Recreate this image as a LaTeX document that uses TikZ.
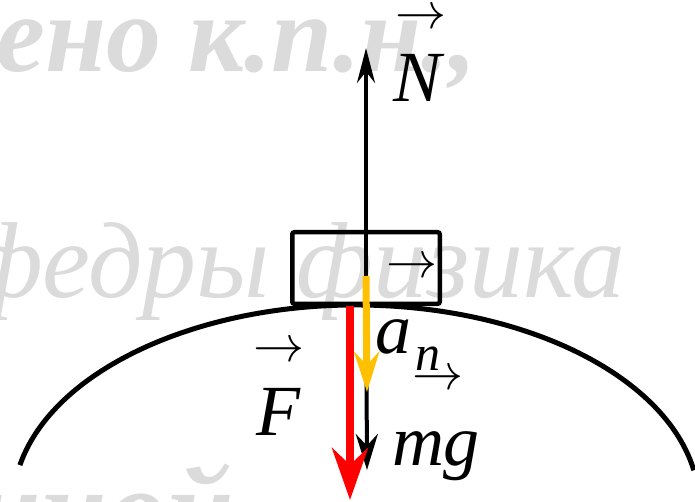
\RequirePackage{fix-cm}
\documentclass[tikz,border=0pt]{standalone}
\usepackage{fontspec}
\setmainfont{Liberation Serif}
\usetikzlibrary{arrows.meta}
\definecolor{goldy}{RGB}{255,192,0}
\tikzset{
	vecmark/.style={inner sep=0, font=\fontsize{51}{51}\selectfont},
	lbl/.style={inner sep=0, anchor=base, font=\fontsize{72}{72}\selectfont\itshape},
	wmark/.style={inner sep=0, anchor=base west, text=gray!28, font=\fontsize{110}{110}\selectfont\bfseries\itshape},
}
\begin{document}
\begin{tikzpicture}[x=1pt, y=-1pt]
	\useasboundingbox (0,0) rectangle (695,502);

	\node[wmark] (wmtop) at (-4,72) {ено к.п.н.,};
	\node[wmark, font=\fontsize{108}{108}\selectfont\itshape] (wmmid) at (-34,298) {федры физика};
	\node[wmark, font=\fontsize{120}{120}\selectfont\bfseries\itshape] (wmbot) at (-26,550) {иной};

	\draw[line width=5pt] (356,505) ++(191.5:343 and 200)
		arc[start angle=191.5, end angle=350, x radius=343, y radius=200];

	\node[draw, line width=4.5pt, rounded corners=2pt, minimum width=147.5pt,
		minimum height=71.5pt, inner sep=0] (body) at (366,268) {};

	\coordinate (c) at (366,276);
	\coordinate (Ntip) at (366,48);
	\coordinate (mgtip) at (367,470);
	\coordinate (antip) at (367,392);
	\coordinate (Fstart) at (350,306);
	\coordinate (Ftip) at (350,500);

	\draw[line width=4pt, -{Stealth[length=35pt, width=18pt]}] (c) -- (Ntip);
	\draw[line width=4pt, -{Stealth[length=36pt, width=22pt]}] (c) -- (mgtip);
	\draw[goldy, line width=7pt, -{Stealth[length=40pt, width=25pt]}] (c) -- (antip);
	\draw[red, line width=8pt, -{Stealth[length=52pt, width=36pt]}] (Fstart) -- (Ftip);

	\node[lbl] (N) at (418,102) {N};
	\node[lbl] (mg) at (436,465) {mg};
	\node[lbl] (F) at (278,435) {F};
	\node[lbl] (a) at (393,353) {a};
	\node[lbl, font=\fontsize{50}{50}\selectfont\itshape] (n) at (428,370) {n};

	\node[vecmark] (vN) at (421,19) {$\rightarrow$};
	\node[vecmark] (vbody) at (411.5,268) {$\rightarrow$};
	\node[vecmark] (vF) at (279,352) {$\rightarrow$};
	\node[vecmark] (vmg) at (438,380) {$\rightarrow$};
\end{tikzpicture}
\end{document}
